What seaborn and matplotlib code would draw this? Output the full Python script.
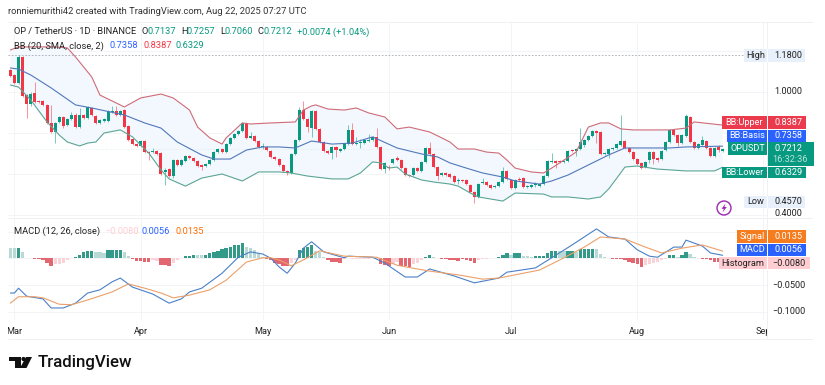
import numpy as np
import pandas as pd
import matplotlib
matplotlib.use("Agg")
import matplotlib.pyplot as plt
from matplotlib.patches import Rectangle, Polygon, Circle
import seaborn as sns

# ---------- candles (one per day, index 0 = 28 Feb) ----------
opens = [1.107,1.083,1.044,1.171,.985,.942,.995,.956,.956,.937,
 .849,.805,.854,.878,.839,.868,.888,.829,.888,.873,
 .922,.883,.849,.859,.859,.902,.907,.888,.912,.834,
 .771,.746,.737,.761,.707,.707,.712,.702,.610,.624,
 .590,.668,.644,.663,.688,.678,.663,.644,.639,.649,
 .668,.707,.722,.707,.746,.776,.795,.810,.849,.776,
 .785,.761,.732,.732,.712,.683,.673,.644,.615,.605,
 .698,.766,.912,.868,.824,.907,.820,.756,.712,.702,
 .732,.712,.722,.746,.815,.746,.751,.751,.761,.766,
 .781,.732,.624,.634,.654,.678,.668,.629,.595,.595,
 .629,.615,.659,.727,.698,.634,.595,.605,.600,.590,
 .566,.571,.571,.546,.512,.488,.556,.561,.546,.537,
 .541,.561,.615,.571,.532,.576,.580,.537,.537,.546,
 .541,.551,.590,.659,.663,.663,.659,.663,.717,.712,
 .722,.741,.766,.785,.810,.805,.698,.698,.722,.727,
 .741,.761,.727,.707,.673,.654,.634,.668,.707,.678,
 .673,.717,.756,.815,.790,.751,.785,.878,.756,.727,
 .741,.761,.727,.688,.732,.7137]
closes = [1.078,1.044,1.171,.981,.942,.990,.951,.951,.937,.849,
 .805,.849,.878,.834,.868,.888,.829,.888,.873,.927,
 .888,.849,.863,.868,.907,.907,.888,.907,.829,.766,
 .746,.737,.761,.707,.702,.712,.698,.600,.620,.590,
 .668,.644,.668,.688,.678,.663,.639,.634,.649,.668,
 .707,.722,.707,.746,.776,.795,.810,.849,.776,.785,
 .761,.732,.737,.717,.683,.673,.644,.615,.605,.698,
 .766,.912,.868,.829,.907,.820,.756,.712,.702,.732,
 .717,.722,.746,.815,.746,.751,.756,.766,.766,.781,
 .732,.624,.654,.629,.673,.668,.629,.595,.590,.629,
 .615,.659,.727,.698,.634,.590,.605,.595,.585,.561,
 .571,.566,.551,.512,.488,.551,.561,.546,.532,.541,
 .561,.615,.576,.532,.571,.571,.537,.541,.546,.551,
 .551,.590,.663,.663,.654,.659,.663,.712,.712,.722,
 .756,.766,.785,.810,.800,.698,.702,.722,.727,.746,
 .761,.727,.707,.673,.649,.629,.659,.707,.673,.668,
 .712,.756,.815,.790,.751,.790,.883,.756,.727,.746,
 .766,.727,.688,.727,.717,.7212]
highs = [1.112,1.088,1.180,1.176,.990,1.000,1.049,.961,.961,.942,
 .937,.854,.883,.883,.873,.902,.898,.922,.893,.932,
 .927,.888,.868,.873,.912,.932,.932,.912,.917,.839,
 .776,.751,.766,.766,.712,.727,.717,.707,.629,.629,
 .673,.673,.673,.693,.693,.683,.668,.649,.654,.673,
 .712,.727,.727,.751,.781,.800,.815,.854,.854,.805,
 .790,.766,.751,.737,.717,.688,.678,.649,.620,.702,
 .771,.927,.956,.873,.912,.912,.824,.761,.717,.737,
 .737,.727,.751,.839,.849,.781,.771,.771,.795,.785,
 .824,.737,.659,.644,.678,.688,.673,.634,.600,.634,
 .634,.663,.732,.756,.702,.639,.610,.610,.605,.595,
 .580,.576,.576,.551,.517,.556,.580,.566,.551,.546,
 .566,.634,.620,.576,.576,.585,.585,.546,.551,.561,
 .556,.595,.668,.702,.668,.668,.668,.717,.722,.727,
 .824,.771,.790,.815,.815,.810,.707,.727,.732,.751,
 .888,.766,.732,.712,.678,.659,.663,.712,.712,.683,
 .717,.761,.820,.820,.795,.795,.893,.883,.761,.751,
 .785,.766,.732,.732,.741,.7257]
lows = [1.073,1.039,1.039,.976,.873,.932,.946,.946,.932,.844,
 .800,.751,.849,.824,.834,.863,.824,.824,.868,.868,
 .883,.844,.844,.854,.854,.898,.883,.883,.824,.761,
 .741,.732,.732,.702,.668,.702,.693,.595,.546,.585,
 .580,.639,.639,.659,.673,.659,.634,.620,.634,.644,
 .663,.702,.702,.702,.741,.771,.790,.805,.771,.771,
 .756,.727,.722,.712,.678,.668,.639,.610,.595,.600,
 .693,.761,.863,.805,.781,.815,.751,.707,.698,.673,
 .683,.707,.717,.741,.741,.741,.727,.746,.756,.761,
 .727,.620,.605,.620,.649,.663,.624,.590,.585,.590,
 .610,.610,.654,.693,.629,.571,.590,.590,.580,.556,
 .551,.561,.546,.507,.457,.483,.551,.541,.527,.532,
 .537,.556,.571,.527,.527,.566,.532,.532,.532,.537,
 .537,.546,.585,.654,.629,.654,.654,.659,.707,.688,
 .717,.732,.761,.781,.751,.693,.693,.678,.717,.722,
 .737,.722,.702,.668,.644,.624,.629,.654,.649,.659,
 .668,.712,.751,.785,.737,.746,.781,.751,.722,.722,
 .737,.722,.683,.683,.707,.7060]

# ---------- Bollinger bands, read at sampled days ----------
upper_days = [0,2,11,14,16,20,22,25,28,32,37,40,44,46,49,52,53,57,59,64,70,72,74,75,78,82,85,88,92,95,98,103,106,108,110,114,117,120,122,124,128,131,133,136,139,142,145,147,150,153,156,162,166,168,175]
upper_vals = [1.205,1.220,1.220,1.215,1.171,1.073,.985,.956,.927,.971,.990,.971,.912,.829,.776,.746,.776,.849,.844,.849,.854,.912,.932,.937,.917,.912,.922,.898,.878,.820,.829,.805,.776,.756,.722,.722,.707,.702,.668,.629,.610,.605,.629,.668,.707,.829,.849,.849,.820,.815,.815,.815,.824,.854,.8387]
basis_days = [0,2,5,10,16,20,28,33,37,41,47,50,54,58,62,66,70,74,79,84,89,95,101,105,108,112,116,121,124,130,133,137,142,147,151,155,162,166,175]
basis_vals = [1.117,1.112,1.083,1.020,.937,.922,.888,.849,.824,.756,.693,.673,.673,.717,.732,.732,.727,.761,.746,.751,.781,.727,.698,.683,.654,.629,.605,.585,.566,.551,.566,.595,.644,.693,.727,.727,.727,.732,.7358]
lower_days = [0,2,5,9,12,14,17,19,21,23,27,30,34,37,39,43,47,52,57,61,66,69,73,79,83,86,89,91,93,95,97,101,104,108,110,113,115,121,124,131,133,137,142,145,147,149,151,154,159,166,173,175]
lower_vals = [1.034,1.024,.961,.854,.790,.756,.737,.751,.756,.800,.815,.781,.702,.620,.576,.541,.580,.600,.566,.610,.610,.605,.590,.576,.576,.605,.659,.654,.629,.634,.600,.571,.561,.551,.541,.507,.488,.468,.507,.502,.488,.488,.478,.488,.527,.580,.634,.639,.624,.615,.615,.6329]

# ---------- MACD pane ----------
macd_days = [0,1,2,4,8,10,13,16,19,22,25,27,30,35,39,42,44,47,52,56,59,62,64,66,68,70,72,74,77,82,83,89,92,97,100,103,109,114,120,122,129,133,138,144,147,151,154,157,159,163,165,166,170,172,175]
macd_vals = [-.065,-.065,-.056,-.071,-.076,-.093,-.093,-.084,-.065,-.059,-.044,-.037,-.054,-.067,-.084,-.076,-.063,-.056,-.028,.002,.012,.008,0.0,-.016,-.028,-.009,.019,.031,.012,.001,.004,.002,-.009,-.035,-.035,-.020,-.033,-.046,-.037,-.026,-.018,.001,.025,.055,.040,.036,.016,.004,.002,.021,.021,.034,.023,.010,.0056]
signal_days = [0,2,6,8,12,15,19,25,29,33,37,40,44,49,53,58,62,64,66,69,72,76,82,90,95,100,103,110,116,120,126,130,135,141,145,151,156,160,165,170,175]
signal_vals = [-.084,-.072,-.072,-.074,-.086,-.087,-.078,-.063,-.048,-.056,-.065,-.074,-.069,-.059,-.041,-.007,.001,.001,-.003,-.014,-.003,.014,.004,.002,-.013,-.020,-.024,-.031,-.039,-.037,-.028,-.022,-.003,.021,.040,.036,.021,.010,.019,.025,.0135]
hist_vals = [.019,.019,.020,.012,.001,.001,-.002,-.002,-.003,-.009,
 -.014,-.011,-.010,-.008,-.004,.001,.002,.006,.011,.014,
 .014,.012,.012,.010,.016,.016,.015,.016,.011,.005,
 -.001,-.005,-.005,-.006,-.007,-.004,-.005,-.012,-.013,-.014,
 -.008,-.004,.001,.004,.005,.006,.006,.006,.006,.009,
 .011,.014,.017,.019,.022,.024,.025,.028,.022,.019,
 .016,.009,.003,-.002,-.004,-.008,-.010,-.015,-.015,-.008,
 -.003,.016,.019,.022,.024,.014,.011,.003,-.003,-.006,
 -.007,-.008,-.001,.001,-.001,-.002,-.002,-.002,-.001,.0005,
 -.001,-.011,-.012,-.014,-.010,-.006,-.014,-.014,-.016,-.010,
 -.008,-.004,.002,.006,.003,.0005,-.001,-.002,-.003,-.004,
 -.005,-.001,-.004,-.005,-.008,-.003,-.001,-.001,.0005,.001,
 .002,.007,.009,.007,.009,.009,.005,.004,.003,.004,
 .005,.005,.010,.014,.014,.013,.014,.014,.014,.012,
 .017,.017,.017,.017,.017,.008,.002,.0005,-.002,-.002,
 -.001,-.004,-.006,-.008,-.011,-.016,-.012,-.010,-.008,-.006,
 -.003,-.002,.006,.007,.002,.006,.012,.008,.002,.0005,
 -.001,-.002,-.004,-.006,-.007,-.0080]
hist_fading_days = [0,1,3,4,11,12,13,14,15,21,22,23,28,29,35,36,40,41,46,47,58,59,60,61,62,69,70,75,76,77,
 82,83,84,85,86,87,88,89,90,94,95,99,100,101,104,105,115,116,117,118,119,123,126,127,128,135,136,139,144,145,146,147,
 156,157,158,159,160,161,164,167,168,169]

month_days = [1,32,62,93,123,154,185]
month_labels = ["Mar","Apr","May","Jun","Jul","Aug","Sep"]
price_ticks = [1.2,1.0,.8,.6,.4]
macd_ticks = [.05,0.0,-.05,-.1]

GREEN, RED, BLUE, ORANGE = "#089981", "#f23645", "#2962ff", "#ff6d00"
W, H = 825, 385
sns.set_theme(style="white")
plt.rcParams["font.family"] = ["Roboto", "DejaVu Sans"]

fig = plt.figure(figsize=(W/100, H/100), dpi=100, facecolor="white")
def px_axes(x0, y0, x1, y1, **kw):
    return fig.add_axes([x0/W, 1-y1/H, (x1-x0)/W, (y1-y0)/H], **kw)

days = np.arange(len(opens))
xlim = ((8-10.4)/4.07, (767-10.4)/4.07)

# ---------- price pane ----------
ax = px_axes(8, 22, 767, 217)
ax.set_xlim(*xlim)
ax.set_ylim(1.4488-217/205, 1.4488-22/205)
ax.fill(np.r_[upper_days, lower_days[::-1]], np.r_[upper_vals, lower_vals[::-1]],
        color="#f2f8fd", lw=0, zorder=1)
for t in price_ticks:
    ax.axhline(t, color="#f3f4f6", lw=0.7, zorder=0)
for m in month_days:
    ax.axvline(m, color="#f3f4f6", lw=0.7, zorder=0)
ax.axhline(max(highs), color="#a6aab1", lw=0.6, ls=(0, (2, 2)), zorder=1)
ax.axhline(closes[-1], color="#d5ebe6", lw=0.6, ls=(0, (1, 2)), zorder=1)
cols = [GREEN if c >= o else RED for o, c in zip(opens, closes)]
ax.vlines(days, lows, highs, colors=[c + "a0" for c in cols], lw=0.6, zorder=2)
bot = np.minimum(opens, closes)
hgt = np.maximum(np.abs(np.array(closes) - np.array(opens)), .003)
ax.bar(days, hgt, bottom=bot, width=0.74, color=cols, lw=0, zorder=3)
sns.lineplot(x=upper_days, y=upper_vals, ax=ax, color="#cf6b78", lw=0.8, errorbar=None, zorder=4)
sns.lineplot(x=basis_days, y=basis_vals, ax=ax, color="#5278bb", lw=0.8, errorbar=None, zorder=4)
sns.lineplot(x=lower_days, y=lower_vals, ax=ax, color="#5aa595", lw=0.8, errorbar=None, zorder=4)
ax.set_xlim(*xlim)
ax.set_ylim(1.4488-217/205, 1.4488-22/205)
ax.axis("off")

# ---------- MACD pane ----------
ax2 = px_axes(8, 219, 767, 320)
def hist_col(i, v):
    fade = i in hist_fading_days
    if v >= 0:
        return "#b2dfdb" if fade else "#22ab94"
    return "#ffcdd2" if fade else "#f7525f"
hcols = [hist_col(i, v) for i, v in zip(days, hist_vals)]
frame = pd.DataFrame({"day": days, "hist": hist_vals, "col": hcols})
sns.barplot(data=frame, x="day", y="hist", hue="col", palette={c: c for c in set(hcols)},
            native_scale=True, dodge=False, width=0.82, legend=False, errorbar=None,
            ax=ax2, linewidth=0, zorder=2)
for t in macd_ticks:
    ax2.axhline(t, color="#f3f4f6", lw=0.7, zorder=0)
for m in month_days:
    ax2.axvline(m, color="#f3f4f6", lw=0.7, zorder=0)
sns.lineplot(x=macd_days, y=macd_vals, ax=ax2, color="#4a80c8", lw=0.8, errorbar=None, zorder=4)
sns.lineplot(x=signal_days, y=signal_vals, ax=ax2, color="#eba06a", lw=0.8, errorbar=None, zorder=4)
ax2.set_xlim(*xlim)
ax2.set_ylim((258.3-320)/534, (258.3-219)/534)
ax2.axis("off")

# ---------- time axis ----------
ax3 = px_axes(8, 320, 767, 339)
ax3.set_xlim(*xlim); ax3.set_ylim(0, 1)
ax3.axis("off")
for m, lab in zip(month_days, month_labels):
    ax3.text(m, 0.42, lab, ha="center", va="center", fontsize=6.6, color="#222", clip_on=True)

# ---------- overlay in pixel coordinates: frame, labels, header, logo ----------
ov = px_axes(0, 0, W, H, zorder=10)
ov.set_xlim(0, W); ov.set_ylim(H, 0); ov.axis("off"); ov.patch.set_alpha(0)
for yy in (22, 218, 339):
    ov.plot([8, 812], [yy, yy], color="#eef0f2", lw=0.7)
ov.plot([767, 767], [22, 339], color="#eef0f2", lw=0.7)

AX = 788.5
def ytext(y, s, c="#222", **kw):
    ov.text(AX, y, s, ha="center", va="center", fontsize=6.6, color=c, **kw)
def box(x0, y0, x1, y1, c):
    ov.add_patch(Rectangle((x0, y0), x1-x0, y1-y0, color=c, lw=0))
ytext(92, "1.0000")
ytext(213, "0.4000")
ytext(285, "−0.0500")
ytext(311.7, "−0.1000")

def tag(y0, y1, xl, xr, c, name, val, fg="white"):
    box(xl, y0, xr, y1, c)
    ov.plot([767, 767], [y0, y1], color="white", lw=0.7)
    ym = (y0+y1)/2
    ov.text((xl+767)/2, ym, name, ha="center", va="center", fontsize=6.6, color=fg)
    ov.text(AX, ym, val, ha="center", va="center", fontsize=6.6, color=fg)

tag(49, 62, 744, 805, "#e8f1fb", "High", "1.1800", "#222")
tag(116, 129, 722, 806, "#ea3a4c", "BB:Upper", "0.8387")
tag(130, 142, 727, 806, BLUE, "BB:Basis", "0.7358")
box(767, 142, 814, 166, GREEN)
tag(142, 155, 728, 814, GREEN, "OPUSDT", "0.7212")
ov.text(790, 160, "16:32:36", ha="center", va="center", fontsize=6.6, color="#b9e3da")
tag(167, 178, 722, 806, GREEN, "BB:Lower", "0.6329")
tag(196, 208, 744, 805, "#e8f1fb", "Low", "0.4570", "#222")
tag(230, 243, 737, 806, "#f57c1f", "Signal", "0.0135")
tag(244, 256, 737, 806, BLUE, "MACD", "0.0056")
tag(257, 269, 719, 810, "#ffcdd2", "Histogram", "−0.0080", "#222")

ov.add_patch(Circle((724, 208), 7, fill=False, ec="#9c27b0", lw=1.0))
ov.add_patch(Polygon([(725.5, 203.5), (721.5, 208.8), (723.8, 208.8), (722.5, 212.5), (726.8, 207), (724.4, 207)],
                     closed=True, color="#9c27b0", lw=0))

def hdr(x, y, s, c="#222", fs=6.7):
    ov.text(x, y, s, ha="left", va="center", fontsize=fs, color=c)
hdr(8, 11.5, "ronniemurithi42 created with TradingView.com, Aug 22, 2025 07:27 UTC", "#333", 6.75)
hdr(14, 32, "OP / TetherUS · 1D · BINANCE")
for x, lab, xv, val in [(142, "O", 147.5, "0.7137"), (181, "H", 186.5, "0.7257"),
                        (220, "L", 224.5, "0.7060"), (258, "C", 263, "0.7212")]:
    hdr(x, 32, lab); hdr(xv, 32, val, GREEN)
hdr(297, 32, "+0.0074 (+1.04%)", GREEN)
hdr(14, 46, "BB (20, SMA, close, 2)")
hdr(110, 46, "0.7358", BLUE); hdr(143, 46, "0.8387", RED); hdr(176, 46, "0.6329", GREEN)
hdr(14, 231, "MACD (12, 26, close)")
hdr(105, 231, "−0.0080", "#ffcdd2"); hdr(142, 231, "0.0056", BLUE); hdr(175, 231, "0.0135", ORANGE)

# TradingView wordmark
ov.add_patch(Polygon([(9, 357), (21, 357), (21, 368), (15, 368), (15, 361), (9, 361)], closed=True, color="#111", lw=0))
ov.add_patch(Circle((23.5, 359), 2.1, color="#111", lw=0))
ov.add_patch(Polygon([(26, 357), (32, 357), (26.5, 368), (20, 368)], closed=True, color="#111", lw=0))
ov.text(38, 362, "TradingView", ha="left", va="center", fontsize=12.2, color="#111", fontweight="medium")

fig.savefig("out.png", dpi=100, facecolor="white")
